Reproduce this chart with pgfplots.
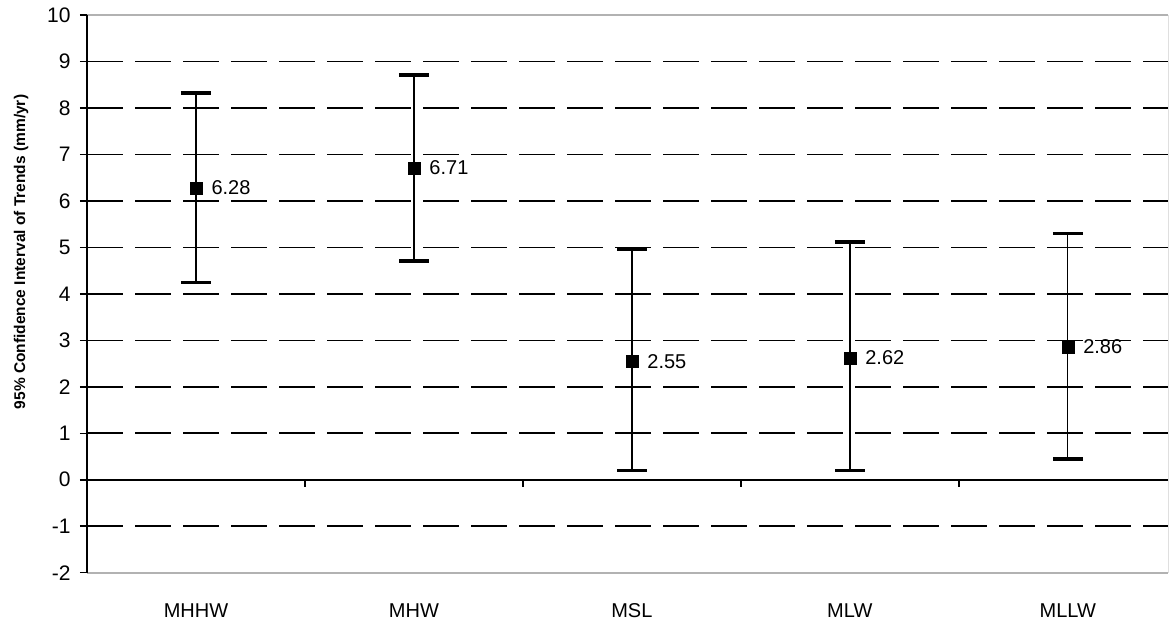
\documentclass[border=0pt]{standalone}
\usepackage{fontspec}
\setmainfont{Liberation Sans}
\usepackage{pgfplots}
\pgfplotsset{compat=1.18}
\pgfplotstableread{
x y ep em lab
0 6.28 2.04 2.04 6.28
1 6.71 2.00 2.00 6.71
2 2.55 2.41 2.35 2.55
3 2.62 2.50 2.42 2.62
4 2.86 2.44 2.41 2.86
}\datatable
\begin{document}
\begin{tikzpicture}
\begin{axis}[
  name=ax,
  scale only axis,
  width=1081pt, height=557.7pt,
  xmin=-0.5, xmax=4.46,
  ymin=-2, ymax=10,
  separate axis lines,
  x axis line style={draw=gray!60, line width=1.6pt},
  y axis line style={draw=gray!25, line width=1pt},
  xtick={0,1,2,3,4},
  xticklabels={MHHW,MHW,MSL,MLW,MLLW},
  x tick style={draw=none},
  xticklabel style={font=\fontsize{20}{24}\selectfont, yshift=-20pt},
  ytick={-1,1,2,3,4,5,6,7,8,9},
  ytick pos=left,
  tick align=outside,
  y tick style={black, line width=1.5pt},
  major tick length=7pt,
  yticklabel style={font=\fontsize{21}{24}\selectfont, xshift=-6pt},
  /pgf/number format/assume math mode=true,
  ymajorgrids=true,
  every axis grid/.style={},
  major grid style={draw=black, line width=1.6pt, dash pattern=on 36pt off 12pt},
  extra y ticks={-2,0,10},
  extra y tick style={grid=none},
  clip=false,
]
\draw[black, line width=1.6pt] (axis cs:-0.5,0) -- (axis cs:4.46,0);
\pgfplotsinvokeforeach{0.5,1.5,2.5,3.5}{
  \draw[black, line width=1.6pt] ([yshift=-7pt]axis cs:#1,0) -- (axis cs:#1,0);
}
\draw[black, line width=1.6pt] (rel axis cs:0,0) -- (rel axis cs:0,1);
\addplot[only marks, mark=square*, mark size=6pt, black,
  nodes near coords, point meta=explicit symbolic,
  nodes near coords style={anchor=west, xshift=12pt, font=\fontsize{20}{24}\selectfont, black},
  error bars/.cd, y dir=both, y explicit,
  error bar style={line width=1.4pt, black},
  error mark options={rotate=90, line width=3.5pt, mark size=15pt, black}]
  table[x=x, y=y, y error plus=ep, y error minus=em, meta=lab] {\datatable};
\end{axis}
\path ([xshift=-66pt,yshift=320.7pt]ax.south west) node[rotate=90, font=\bfseries\fontsize{15.5}{18}\selectfont]{95\% Confidence Interval of Trends (mm/yr)};
\pgfresetboundingbox
\path ([xshift=-87pt,yshift=-51.3pt]ax.south west) rectangle ([xshift=4pt,yshift=15pt]ax.north east);
\end{tikzpicture}
\end{document}
